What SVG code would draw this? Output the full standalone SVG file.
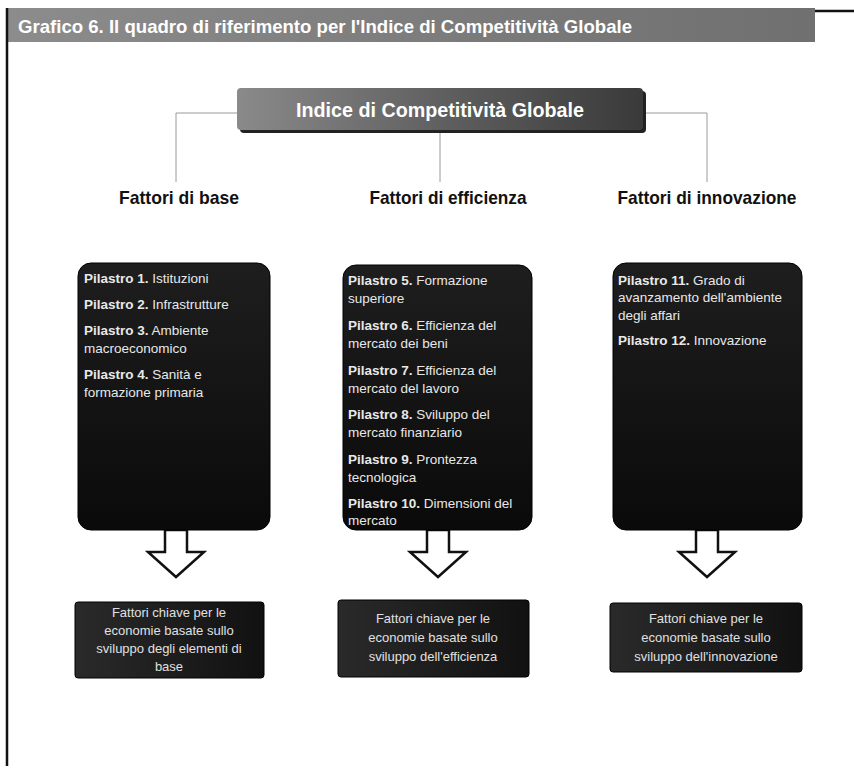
<svg xmlns="http://www.w3.org/2000/svg" width="854" height="772" viewBox="0 0 854 772">
  <defs>
    <linearGradient id="gTitle" x1="0" y1="0" x2="1" y2="0">
      <stop offset="0" stop-color="#8c8c8c"/>
      <stop offset="0.6" stop-color="#7a7a7a"/>
      <stop offset="1" stop-color="#707070"/>
    </linearGradient>
    <linearGradient id="gTop" x1="0" y1="0" x2="1" y2="0">
      <stop offset="0" stop-color="#8a8a8a"/>
      <stop offset="0.5" stop-color="#606060"/>
      <stop offset="1" stop-color="#3a3a3a"/>
    </linearGradient>
    <linearGradient id="gPillar" x1="0" y1="0" x2="0" y2="1">
      <stop offset="0" stop-color="#1e1e1e"/>
      <stop offset="1" stop-color="#0a0a0a"/>
    </linearGradient>
    <linearGradient id="gBottom" x1="0" y1="0" x2="1" y2="0">
      <stop offset="0" stop-color="#2a2a2a"/>
      <stop offset="1" stop-color="#111111"/>
    </linearGradient>
    <style>
      .frame { stroke: #111; stroke-width: 2.5; fill: none; }
      .title { font-family: "Liberation Sans", Arial, sans-serif; font-weight: bold; font-size: 19px; fill: #ffffff; }
      .toptext { font-family: "Liberation Sans", Arial, sans-serif; font-weight: bold; font-size: 21px; fill: #ffffff; }
      .label { font-family: "Liberation Sans", Arial, sans-serif; font-weight: bold; font-size: 19px; fill: #111; }
      .conn { stroke: #9a9a9a; stroke-width: 1; fill: none; }
      .pillar { fill: url(#gPillar); stroke: #000; stroke-width: 1; }
      .ptext { font-family: "Liberation Sans", Arial, sans-serif; font-size: 13.5px; fill: #e8e8e8; }
      .ptext tspan.b { font-weight: bold; }
      .arrow { fill: #ffffff; stroke: #111; stroke-width: 2.5; stroke-linejoin: miter; }
      .bottom { fill: url(#gBottom); stroke: #000; stroke-width: 1; }
      .btext { font-family: "Liberation Sans", Arial, sans-serif; font-size: 13px; fill: #e0e0e0; text-anchor: middle; }
    </style>
  </defs>

  <rect width="854" height="772" fill="#ffffff"/>

  <!-- frame -->
  <g id="frame">
    <rect x="8" y="8" width="807" height="34" fill="url(#gTitle)"/>
    <line class="frame" x1="815" y1="11" x2="854" y2="11"/>
    <line class="frame" x1="7" y1="8" x2="7" y2="766"/>
    <text class="title" x="18" y="33" textLength="614" lengthAdjust="spacingAndGlyphs">Grafico 6. Il quadro di riferimento per l'Indice di Competitività Globale</text>
  </g>

  <!-- connectors -->
  <g id="connectors">
    <polyline class="conn" points="237,113 176,113 176,182"/>
    <polyline class="conn" points="643,113 707,113 707,182"/>
    <line class="conn" x1="440" y1="131" x2="440" y2="182"/>
    <path class="arrow" d="M165,530 L187,530 L187,552 L204,552 L176,577 L148,552 L165,552 Z"/>
    <path class="arrow" d="M427,530 L449,530 L449,552 L466,552 L438,577 L410,552 L427,552 Z"/>
    <path class="arrow" d="M696,530 L718,530 L718,552 L735,552 L707,577 L679,552 L696,552 Z"/>
  </g>

  <!-- top node -->
  <g id="node-indice">
    <rect x="240" y="91" width="406" height="42" rx="4" fill="#222"/>
    <rect x="237" y="88" width="406" height="42" rx="4" fill="url(#gTop)"/>
    <text class="toptext" x="440" y="117" text-anchor="middle" textLength="288" lengthAdjust="spacingAndGlyphs">Indice di Competitività Globale</text>
  </g>

  <!-- labels -->
  <g id="label-base">
    <text class="label" x="179" y="204" text-anchor="middle" textLength="120" lengthAdjust="spacingAndGlyphs">Fattori di base</text>
  </g>
  <g id="label-efficienza">
    <text class="label" x="448" y="204" text-anchor="middle" textLength="157" lengthAdjust="spacingAndGlyphs">Fattori di efficienza</text>
  </g>
  <g id="label-innovazione">
    <text class="label" x="707" y="204" text-anchor="middle" textLength="179" lengthAdjust="spacingAndGlyphs">Fattori di innovazione</text>
  </g>

  <!-- pillar boxes -->
  <g id="pillars-base">
    <rect class="pillar" x="78" y="263" width="192" height="267" rx="13"/>
    <text class="ptext" x="84" y="283"><tspan class="b">Pilastro 1.</tspan> Istituzioni</text>
    <text class="ptext" x="84" y="309"><tspan class="b">Pilastro 2.</tspan> Infrastrutture</text>
    <text class="ptext" x="84" y="335"><tspan class="b">Pilastro 3.</tspan> Ambiente</text>
    <text class="ptext" x="84" y="353">macroeconomico</text>
    <text class="ptext" x="84" y="379"><tspan class="b">Pilastro 4.</tspan> Sanità e</text>
    <text class="ptext" x="84" y="397">formazione primaria</text>
  </g>

  <g id="pillars-efficienza">
    <rect class="pillar" x="343" y="265" width="189" height="265" rx="13"/>
    <text class="ptext" x="348" y="285"><tspan class="b">Pilastro 5.</tspan> Formazione</text>
    <text class="ptext" x="348" y="303">superiore</text>
    <text class="ptext" x="348" y="330"><tspan class="b">Pilastro 6.</tspan> Efficienza del</text>
    <text class="ptext" x="348" y="348">mercato dei beni</text>
    <text class="ptext" x="348" y="375"><tspan class="b">Pilastro 7.</tspan> Efficienza del</text>
    <text class="ptext" x="348" y="393">mercato del lavoro</text>
    <text class="ptext" x="348" y="419"><tspan class="b">Pilastro 8.</tspan> Sviluppo del</text>
    <text class="ptext" x="348" y="437">mercato finanziario</text>
    <text class="ptext" x="348" y="464"><tspan class="b">Pilastro 9.</tspan> Prontezza</text>
    <text class="ptext" x="348" y="482">tecnologica</text>
    <text class="ptext" x="348" y="508"><tspan class="b">Pilastro 10.</tspan> Dimensioni del</text>
    <text class="ptext" x="348" y="525">mercato</text>
  </g>

  <g id="pillars-innovazione">
    <rect class="pillar" x="613" y="263" width="189" height="267" rx="13"/>
    <text class="ptext" x="618" y="285"><tspan class="b">Pilastro 11.</tspan> Grado di</text>
    <text class="ptext" x="618" y="302">avanzamento dell'ambiente</text>
    <text class="ptext" x="618" y="320">degli affari</text>
    <text class="ptext" x="618" y="345"><tspan class="b">Pilastro 12.</tspan> Innovazione</text>
  </g>

  <!-- bottom boxes -->
  <g id="key-base">
    <rect class="bottom" x="75" y="602" width="189" height="76" rx="3"/>
    <text class="btext" x="169" y="617">Fattori chiave per le</text>
    <text class="btext" x="169" y="635">economie basate sullo</text>
    <text class="btext" x="169" y="653">sviluppo degli elementi di</text>
    <text class="btext" x="169" y="671">base</text>
  </g>
  <g id="key-efficienza">
    <rect class="bottom" x="338" y="600" width="191" height="77" rx="3"/>
    <text class="btext" x="433" y="623">Fattori chiave per le</text>
    <text class="btext" x="433" y="642">economie basate sullo</text>
    <text class="btext" x="433" y="661">sviluppo dell'efficienza</text>
  </g>
  <g id="key-innovazione">
    <rect class="bottom" x="610" y="603" width="192" height="69" rx="3"/>
    <text class="btext" x="706" y="623">Fattori chiave per le</text>
    <text class="btext" x="706" y="642">economie basate sullo</text>
    <text class="btext" x="706" y="661">sviluppo dell'innovazione</text>
  </g>
</svg>
